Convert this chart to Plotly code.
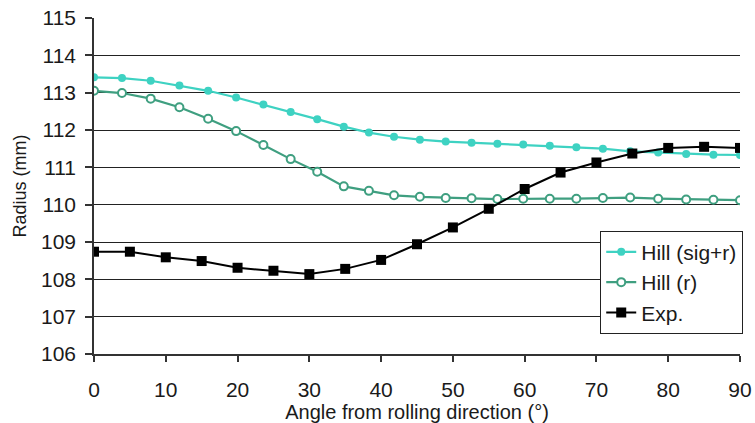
import plotly.graph_objects as go

# Hill curves: angle (deg) and radius (mm)
hill_angle = [0, 3.9, 7.9, 11.9, 15.9, 19.8, 23.6, 27.4, 31.1, 34.8, 38.3, 41.8, 45.4,
              49.0, 52.6, 56.2, 59.8, 63.5, 67.2, 70.9, 74.7, 78.6, 82.5, 86.3, 90]
hill_sig_r = [113.41, 113.39, 113.32, 113.19, 113.05, 112.87, 112.68, 112.48, 112.29,
              112.09, 111.93, 111.82, 111.74, 111.69, 111.66, 111.63, 111.61, 111.58,
              111.54, 111.50, 111.43, 111.40, 111.36, 111.34, 111.33]
hill_r = [113.05, 112.99, 112.84, 112.61, 112.30, 111.97, 111.60, 111.22, 110.88,
          110.49, 110.37, 110.25, 110.21, 110.18, 110.17, 110.15, 110.16, 110.16,
          110.16, 110.18, 110.19, 110.16, 110.14, 110.13, 110.12]

# Experiment
exp_angle = [0, 5, 10, 15, 20, 25, 30, 35, 40, 45, 50, 55, 60, 65, 70, 75, 80, 85, 90]
exp_radius = [108.74, 108.74, 108.59, 108.49, 108.31, 108.23, 108.14, 108.28, 108.52,
              108.94, 109.39, 109.89, 110.42, 110.86, 111.13, 111.37, 111.52, 111.55, 111.52]

x_ticks = [0, 10, 20, 30, 40, 50, 60, 70, 80, 90]
y_ticks = [106, 107, 108, 109, 110, 111, 112, 113, 114, 115]

FONT = "Liberation Sans, Arial, sans-serif"

fig = go.Figure()
fig.add_trace(go.Scatter(
    x=hill_angle, y=hill_sig_r, name="Hill (sig+r)", mode="lines+markers",
    line=dict(color="#3ed2c2", width=2.2),
    marker=dict(symbol="circle", size=8, color="#3ed2c2"),
))
fig.add_trace(go.Scatter(
    x=hill_angle, y=hill_r, name="Hill (r)", mode="lines+markers",
    line=dict(color="#3f9f80", width=2.2),
    marker=dict(symbol="circle", size=8, color="white",
                line=dict(color="#3f9f80", width=2)),
))
fig.add_trace(go.Scatter(
    x=exp_angle, y=exp_radius, name="Exp.", mode="lines+markers",
    line=dict(color="black", width=2),
    marker=dict(symbol="square", size=10, color="black"),
))

fig.update_layout(
    width=755, height=423,
    margin=dict(l=94, r=13, t=18, b=69),
    paper_bgcolor="white", plot_bgcolor="white",
    font=dict(family=FONT, size=21, color="#1a1a1a"),
    showlegend=True,
    legend=dict(
        x=1.005, xanchor="right", y=0.367, yanchor="top",
        bgcolor="white", bordercolor="#222", borderwidth=1,
        font=dict(family=FONT, size=21, color="#1a1a1a"),
        tracegroupgap=0,
    ),
    xaxis=dict(
        range=[0, 90], tickvals=x_ticks, ticktext=[str(v) for v in x_ticks],
        automargin=False,
        showgrid=False, zeroline=False,
        showline=True, linecolor="#333", linewidth=1.5,
        ticks="outside", ticklen=6, tickwidth=1.5, tickcolor="#333",
        ticklabelstandoff=10,
        tickfont=dict(family=FONT, size=21, color="#1a1a1a"),
        title=dict(text="Angle from rolling direction (°)", standoff=4,
                   font=dict(family=FONT, size=20, color="#1a1a1a")),
    ),
    yaxis=dict(
        range=[106, 115], tickvals=y_ticks, ticktext=[str(v) for v in y_ticks],
        automargin=False,
        showgrid=True, gridcolor="#222", gridwidth=1.4, zeroline=False,
        showline=True, linecolor="#333", linewidth=1.5,
        ticks="outside", ticklen=7, tickwidth=1.5, tickcolor="#333",
        ticklabelstandoff=5,
        tickfont=dict(family=FONT, size=21, color="#1a1a1a"),
        title=dict(text="Radius (mm)", standoff=10,
                   font=dict(family=FONT, size=18, color="#1a1a1a")),
    ),
)

fig.write_html("out.html")
